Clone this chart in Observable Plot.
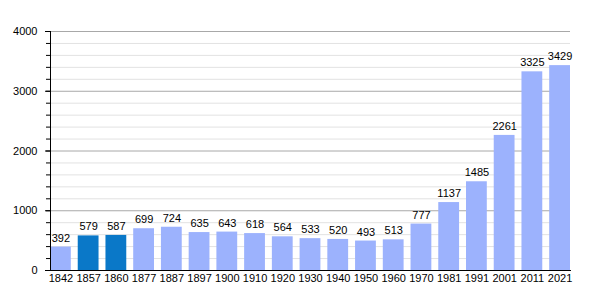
<!DOCTYPE html>
<html>
<head>
<meta charset="utf-8">
<script src="https://cdn.jsdelivr.net/npm/d3@7"></script>
<script src="https://cdn.jsdelivr.net/npm/@observablehq/plot@0.6"></script>
<style>
  html, body { margin: 0; padding: 0; background: #fff; }
  #chart svg { display: block; }
</style>
</head>
<body>
<div id="chart"></div>
<script>
const years = ["1842","1857","1860","1877","1887","1897","1900","1910","1920","1930","1940","1950","1960","1970","1981","1991","2001","2011","2021"];
const population = [392,579,587,699,724,635,643,618,564,533,520,493,513,777,1137,1485,2261,3325,3429];
const highlighted = ["1857","1860"];
const majorTicks = [0,1000,2000,3000,4000];
const minorTicks = d3.range(0, 4001, 200);

const data = years.map((y, i) => ({year: y, value: population[i], hl: highlighted.includes(y)}));
const minorGrid = minorTicks.filter(v => v % 1000 !== 0);
const majorGrid = majorTicks.filter(v => v > 0);

const chart = Plot.plot({
  width: 600,
  height: 300,
  marginLeft: 50,
  marginRight: 30,
  marginTop: 31,
  marginBottom: 30,
  style: {fontFamily: "'Liberation Sans', Arial, sans-serif", fontSize: "11px", color: "#000", background: "#fff"},
  x: {domain: years, paddingInner: 0.25, paddingOuter: 0, round: false, label: null},
  y: {domain: [0, 4000], label: null},
  marks: [
    Plot.ruleY(minorGrid, {stroke: "#e2e2e2", strokeWidth: 1}),
    Plot.ruleY(majorGrid, {stroke: "#a8a8a8", strokeWidth: 1}),
    Plot.barY(data, {x: "year", y: "value", fill: d => d.hl ? "#0a78c8" : "#9cb2fd"}),
    Plot.text(data, {x: "year", y: "value", text: d => String(d.value), dy: -9, fill: "#000", fontSize: 11}),
    Plot.axisY(minorTicks, {tickSize: 4, text: null, label: null, stroke: "#000"}),
    Plot.axisY(majorTicks, {tickSize: 5, tickPadding: 8, tickFormat: d => String(d), label: null, fill: "#000", fontSize: 11}),
    Plot.axisX({tickSize: 0, tickPadding: 4, label: null, fill: "#000", fontSize: 11}),
    Plot.frame({anchor: "left", stroke: "#000"}),
    Plot.frame({anchor: "bottom", stroke: "#000"})
  ]
});
document.getElementById("chart").appendChild(chart);
</script>
</body>
</html>
